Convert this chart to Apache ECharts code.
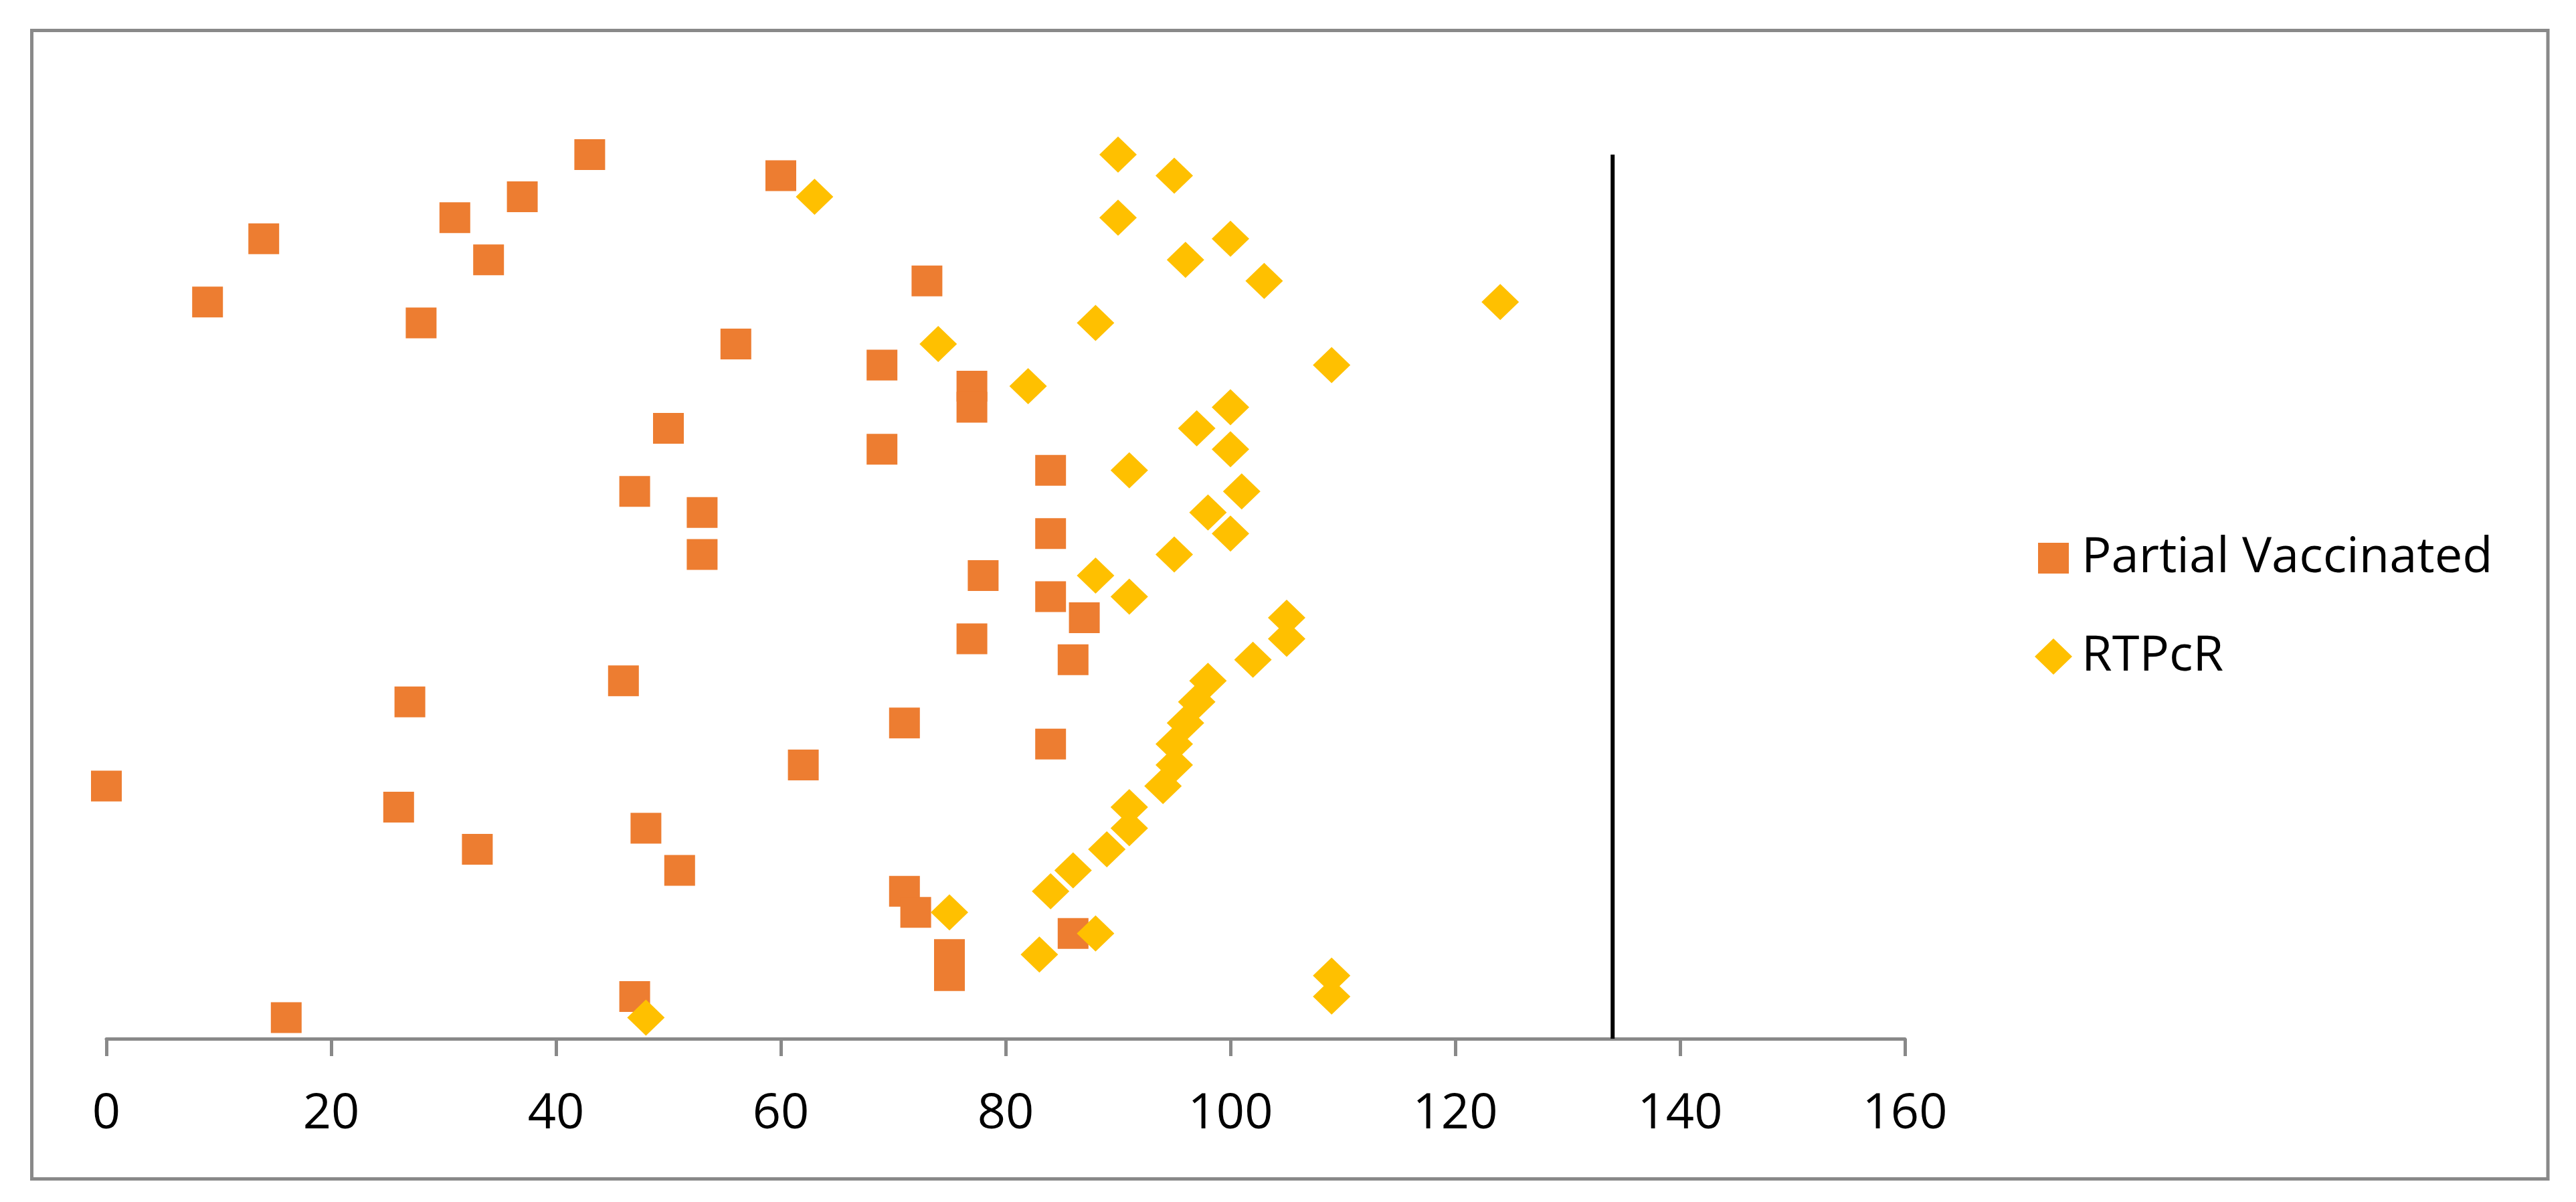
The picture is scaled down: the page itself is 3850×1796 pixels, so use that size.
<!DOCTYPE html>
<html>
<head>
<meta charset="utf-8">
<script src="https://cdn.jsdelivr.net/npm/echarts@6/dist/echarts.min.js"></script>
<style>
  html, body { margin: 0; padding: 0; background: #fff; }
  #chart { width: 3850px; height: 1796px; }
</style>
</head>
<body>
<div id="chart"></div>
<script>
// row index (bottom = 1 ... top = 42)
const rows = [42, 41, 40, 39, 38, 37, 36, 35, 34, 33, 32, 31, 30, 29, 28, 27, 26, 25, 24, 23, 22,
              21, 20, 19, 18, 17, 16, 15, 14, 13, 12, 11, 10, 9, 8, 7, 6, 5, 4, 3, 2, 1]
// values read top row -> bottom row
const partialVaccinated = [43, 60, 37, 31, 14, 34, 73, 9, 28, 56, 69, 77, 77, 50, 69, 84, 47, 53, 84, 53, 78,
                           84, 87, 77, 86, 46, 27, 71, 84, 62, 0, 26, 48, 33, 51, 71, 72, 86, 75, 75, 47, 16]
const rtpcr = [90, 95, 63, 90, 100, 96, 103, 124, 88, 74, 109, 82, 100, 97, 100, 91, 101, 98, 100, 95, 88,
               91, 105, 105, 102, 98, 97, 96, 95, 95, 94, 91, 91, 89, 86, 84, 75, 88, 83, 109, 109, 48]
// the black vertical reference line
const refX = [134, 134]
const refY = [0, 42]
const xTicks = { min: 0, max: 160, interval: 20 }

const chart = echarts.init(document.getElementById('chart'))

const font = '"Open Sans", "Noto Sans", sans-serif'
const grey = '#898989'

const option = {
  animation: false,
  backgroundColor: '#ffffff',
  graphic: [{
    type: 'rect',
    shape: { x: 47.5, y: 45.5, width: 3760.5, height: 1716 },
    style: { fill: 'none', stroke: grey, lineWidth: 5 },
    silent: true
  }],
  grid: { left: 159, right: 1003, top: 231, bottom: 244, containLabel: false },
  legend: [
    {
      data: ['Partial Vaccinated'],
      orient: 'vertical',
      left: 3041,
      top: 792,
      icon: 'rect',
      itemWidth: 46,
      itemHeight: 46,
      textStyle: { fontFamily: font, fontSize: 74, color: '#000', padding: [0, 0, 0, 14] }
    },
    {
      data: ['RTPcR'],
      orient: 'vertical',
      left: 3036,
      top: 939,
      icon: 'diamond',
      itemWidth: 56,
      itemHeight: 54,
      textStyle: { fontFamily: font, fontSize: 74, color: '#000', padding: [0, 0, 0, 9] }
    }
  ],
  xAxis: {
    type: 'value',
    min: xTicks.min,
    max: xTicks.max,
    interval: xTicks.interval,
    axisLine: { show: true, onZero: false, lineStyle: { color: grey, width: 5 } },
    axisTick: { show: true, length: 26, lineStyle: { color: grey, width: 5 } },
    axisLabel: { fontFamily: font, fontSize: 74, color: '#000', margin: 76 },
    splitLine: { show: false }
  },
  yAxis: {
    type: 'value',
    min: 0,
    max: 42,
    show: false,
    splitLine: { show: false }
  },
  series: [
    {
      name: 'Partial Vaccinated',
      type: 'scatter',
      symbol: 'rect',
      symbolSize: 46,
      itemStyle: { color: '#ED7D31', opacity: 1 },
      data: partialVaccinated.map((v, i) => [v, rows[i]])
    },
    {
      name: 'RTPcR',
      type: 'scatter',
      symbol: 'diamond',
      symbolSize: [56, 54],
      itemStyle: { color: '#FFC000', opacity: 1 },
      data: rtpcr.map((v, i) => [v, rows[i]])
    },
    {
      name: 'ref',
      type: 'line',
      symbol: 'none',
      silent: true,
      clip: false,
      lineStyle: { color: '#000', width: 6 },
      data: refX.map((x, i) => [x, refY[i]])
    }
  ]
}

chart.setOption(option)
</script>
</body>
</html>
